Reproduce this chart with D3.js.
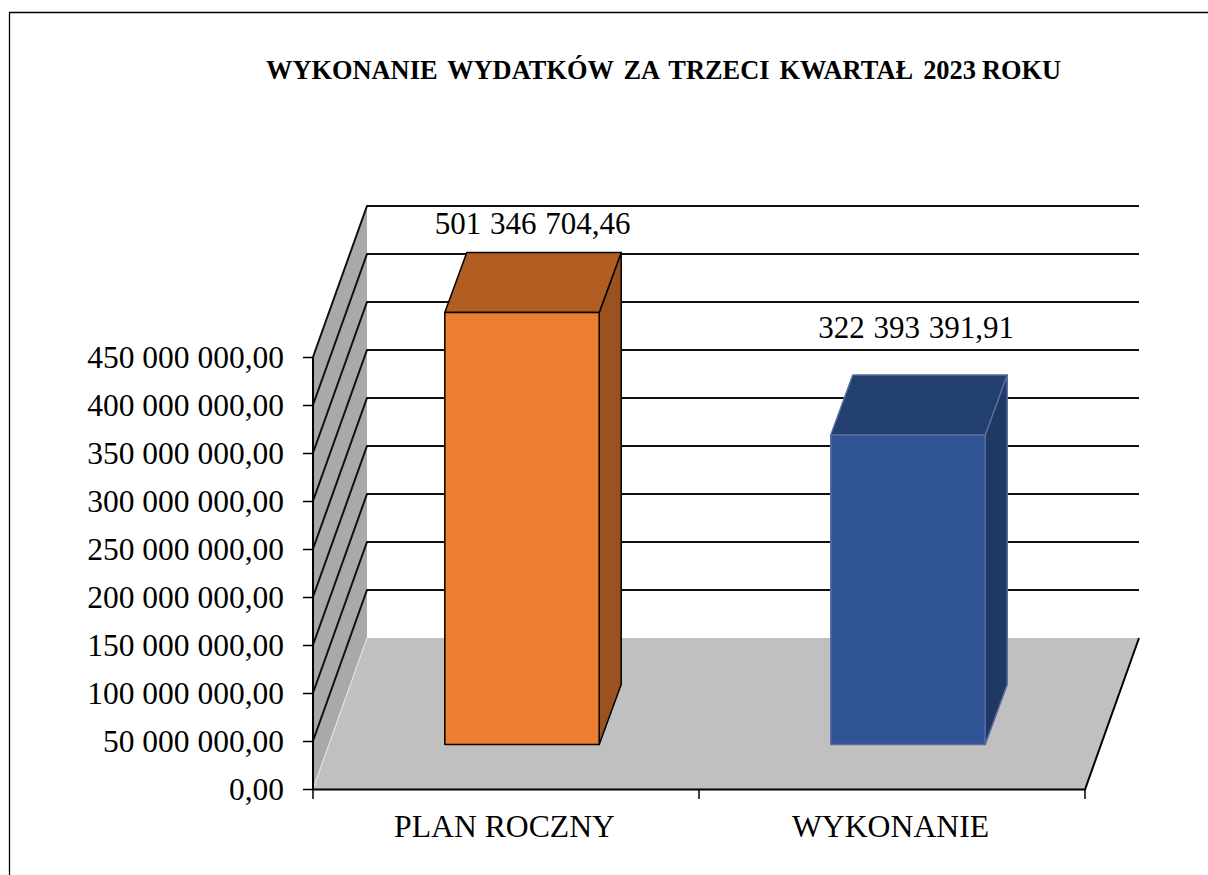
<!DOCTYPE html>
<html>
<head>
<meta charset="utf-8">
<script src="https://cdn.jsdelivr.net/npm/d3@7"></script>
<style>
  html, body { margin: 0; padding: 0; background: #fff; }
  svg { display: block; }
  text { font-family: "Liberation Serif", serif; fill: #000; }
</style>
</head>
<body>
<svg id="chart" width="1208" height="875"></svg>
<script>
// chart data
const categories = ['PLAN ROCZNY', 'WYKONANIE'];
const values = [501346704.46, 322393391.91];
const valueLabels = ['501 346 704,46', '322 393 391,91'];
const tickValues = [0, 50e6, 100e6, 150e6, 200e6, 250e6, 300e6, 350e6, 400e6, 450e6];
const tickLabels = ['0,00', '50 000 000,00', '100 000 000,00', '150 000 000,00', '200 000 000,00',
  '250 000 000,00', '300 000 000,00', '350 000 000,00', '400 000 000,00', '450 000 000,00'];
const faceColors = ['#ed7d31', '#2f5597'];
const topColors = ['#b25e22', '#223f70'];
const sideColors = ['#9a521f', '#1f3864'];
const strokeColors = ['#000000', '#5a6a9e'];

const svg = d3.select('#chart');

// front plane of the axes
const x0 = 313, x1 = 1085, yBase = 789, yTop = 357;
// offset of the back wall, and of the bar's front face and depth
const depth = { x: 54, y: -151 };
const barOffset = { x: 16, y: -44.5 };
const barDepth = { x: 22, y: -60 };

const x = d3.scaleBand().domain(categories).range([x0, x1]).paddingInner(0.6).paddingOuter(0.3);
// the plan value is above the axis maximum, so bars get clipped at the top
const y = d3.scaleLinear().domain([0, 450e6]).range([yBase, yTop]).clamp(true);

const poly = pts => pts.map(p => p.join(',')).join(' ');

// frame
svg.append('path').attr('d', 'M9.5,875V12.5H1208').attr('fill', 'none').attr('stroke', '#000').attr('stroke-width', 1.3);

// title, the last word sits close to the year in the original
const title = svg.append('text').attr('x', 266).attr('y', 79)
  .attr('font-size', 26.4).attr('font-weight', 'bold').attr('word-spacing', 3.5);
title.append('tspan').text('WYKONANIE WYDATKÓW ZA TRZECI KWARTAŁ 2023');
title.append('tspan').attr('dx', 6).text('ROKU');

// left wall
svg.append('polygon')
  .attr('points', poly([[x0, yBase], [x0 + depth.x, yBase + depth.y], [x0 + depth.x, yTop + depth.y], [x0, yTop]]))
  .attr('fill', '#a9a9a9');

// floor
svg.append('polygon')
  .attr('points', poly([[x0, yBase], [x1, yBase], [x1 + depth.x, yBase + depth.y], [x0 + depth.x, yBase + depth.y]]))
  .attr('fill', '#c0c0c0');
svg.append('line').attr('x1', x0).attr('y1', yBase).attr('x2', x0 + depth.x).attr('y2', yBase + depth.y)
  .attr('stroke', '#e8e8e8').attr('stroke-width', 1);

// gridlines: slanted on the wall, then across the back
svg.append('g').selectAll('path')
  .data(tickValues.slice(1))
  .enter()
  .append('path')
  .attr('d', d => `M${x0},${y(d)}L${x0 + depth.x},${y(d) + depth.y}H${x1 + depth.x}`)
  .attr('fill', 'none')
  .attr('stroke', '#111')
  .attr('stroke-width', 2);

// axes
svg.append('path').attr('d', `M${x0},${yTop}V${yBase + 0.5}H${x1}L${x1 + depth.x},${yBase + depth.y}`)
  .attr('fill', 'none').attr('stroke', '#000').attr('stroke-width', 2);

const yAxis = d3.axisLeft(y).tickValues(tickValues).tickSize(10)
  .tickFormat((d, i) => tickLabels[i]);
const yAxisG = svg.append('g').attr('transform', `translate(${x0},0)`).call(yAxis);
yAxisG.select('.domain').remove();
yAxisG.selectAll('line').attr('stroke', '#000').attr('stroke-width', 1.5);
yAxisG.selectAll('text').attr('font-family', null).attr('font-size', 31.5).attr('dy', '0.33em')
  .attr('x', -29);

const xAxis = d3.axisBottom(x).tickSize(0).tickPadding(25);
const xAxisG = svg.append('g').attr('transform', `translate(-1.5,${yBase})`).call(xAxis);
xAxisG.select('.domain').remove();
xAxisG.selectAll('text').attr('font-family', null).attr('font-size', 31.7).attr('dy', '0.71em');

// category separators on the x axis
svg.append('g').selectAll('line')
  .data(categories.concat('end'))
  .enter()
  .append('line')
  .attr('x1', (d, i) => x0 + i * x.step())
  .attr('x2', (d, i) => x0 + i * x.step())
  .attr('y1', yBase)
  .attr('y2', yBase + 10)
  .attr('stroke', '#000')
  .attr('stroke-width', 1.5);

// bars: front, top and side faces
const rows = categories.map((c, i) => ({ c, i, v: values[i] }));
const bar = svg.append('g').selectAll('g').data(rows).enter().append('g')
  .attr('stroke', d => strokeColors[d.i])
  .attr('stroke-width', 1.5)
  .attr('stroke-linejoin', 'round');

const left = d => x(d.c) + barOffset.x;
const right = d => left(d) + x.bandwidth();
const topY = d => y(d.v) + barOffset.y;
const botY = () => y(0) + barOffset.y;

bar.append('polygon')
  .attr('fill', d => sideColors[d.i])
  .attr('points', d => poly([[right(d), botY()], [right(d) + barDepth.x, botY() + barDepth.y],
    [right(d) + barDepth.x, topY(d) + barDepth.y], [right(d), topY(d)]]));
bar.append('polygon')
  .attr('fill', d => topColors[d.i])
  .attr('points', d => poly([[left(d), topY(d)], [right(d), topY(d)],
    [right(d) + barDepth.x, topY(d) + barDepth.y], [left(d) + barDepth.x, topY(d) + barDepth.y]]));
bar.append('rect')
  .attr('fill', d => faceColors[d.i])
  .attr('x', left)
  .attr('y', topY)
  .attr('width', x.bandwidth())
  .attr('height', d => botY() - topY(d));

// value labels
const labelY = [234, 338];
svg.append('g').selectAll('text')
  .data(rows)
  .enter()
  .append('text')
  .attr('x', d => x(d.c) + x.bandwidth() / 2 + [26.5, 24][d.i])
  .attr('y', d => labelY[d.i])
  .attr('text-anchor', 'middle')
  .attr('font-size', 31)
  .attr('word-spacing', 1)
  .text(d => valueLabels[d.i]);
</script>
</body>
</html>
